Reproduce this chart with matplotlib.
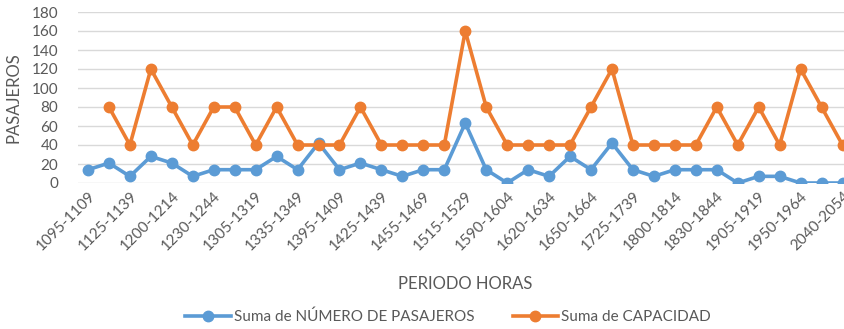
import matplotlib.pyplot as plt
import numpy as np

plt.rcParams['font.family'] = ['Lato', 'DejaVu Sans']

# Labels shown on the axis (every second period)
tick_labels = ["1095-1109", "1125-1139", "1200-1214", "1230-1244", "1305-1319",
               "1335-1349", "1395-1409", "1425-1439", "1455-1469", "1515-1529",
               "1590-1604", "1620-1634", "1650-1664", "1725-1739", "1800-1814",
               "1830-1844", "1905-1919", "1950-1964", "2040-2054"]

pasajeros = [14, 21, 7, 28, 21, 7, 14, 14, 14, 28, 14, 42, 14, 21, 14, 7, 14, 14,
             63, 14, 0, 14, 7, 28, 14, 42, 14, 7, 14, 14, 14, 0, 7, 7, 0, 0, 0]
capacidad = [np.nan, 80, 40, 120, 80, 40, 80, 80, 40, 80, 40, 40, 40, 80, 40, 40, 40, 40,
             160, 80, 40, 40, 40, 40, 80, 120, 40, 40, 40, 40, 80, 40, 80, 40, 120, 80, 40]

BLUE = "#5B9BD5"
ORANGE = "#ED7D31"
GREY = "#595959"

x = np.arange(len(pasajeros))

fig = plt.figure(figsize=(8.44, 3.29), dpi=100)
ax = fig.add_axes([77.5 / 844, 146 / 329, 775.5 / 844, 171 / 329])

ax.plot(x, pasajeros, color=BLUE, lw=2.6, marker="o", ms=7.5,
        label="Suma de NÚMERO DE PASAJEROS", zorder=3)
ax.plot(x, capacidad, color=ORANGE, lw=2.6, marker="o", ms=7.5,
        label="Suma de CAPACIDAD", zorder=3)

ax.set_xlim(-0.5, len(x) - 0.5)
ax.set_ylim(0, 180)
ax.set_yticks(np.arange(0, 181, 20))
ax.set_xticks(x[::2])
ax.set_xticklabels(tick_labels, rotation=45, ha="right", rotation_mode="anchor")

ax.grid(axis="y", color="#D9D9D9", lw=1)
ax.set_axisbelow(True)
for s in ax.spines.values():
    s.set_visible(False)
ax.tick_params(length=0, labelsize=11, colors=GREY)
ax.tick_params(axis="x", pad=4)
ax.tick_params(axis="y", pad=14)

ax.set_ylabel("PASAJEROS", fontsize=12, color=GREY, labelpad=7)
fig.text(465 / 844, 1 - 284 / 329, "PERIODO HORAS", fontsize=12, color=GREY,
         ha="center", va="center")

fig.legend(loc="center", bbox_to_anchor=(448 / 844, 1 - 317 / 329), ncol=2,
           frameon=False, fontsize=11, labelcolor=GREY, handlelength=3,
           columnspacing=2.5, handletextpad=0.2, markerscale=1.0)

fig.savefig("out.png", dpi=100)
